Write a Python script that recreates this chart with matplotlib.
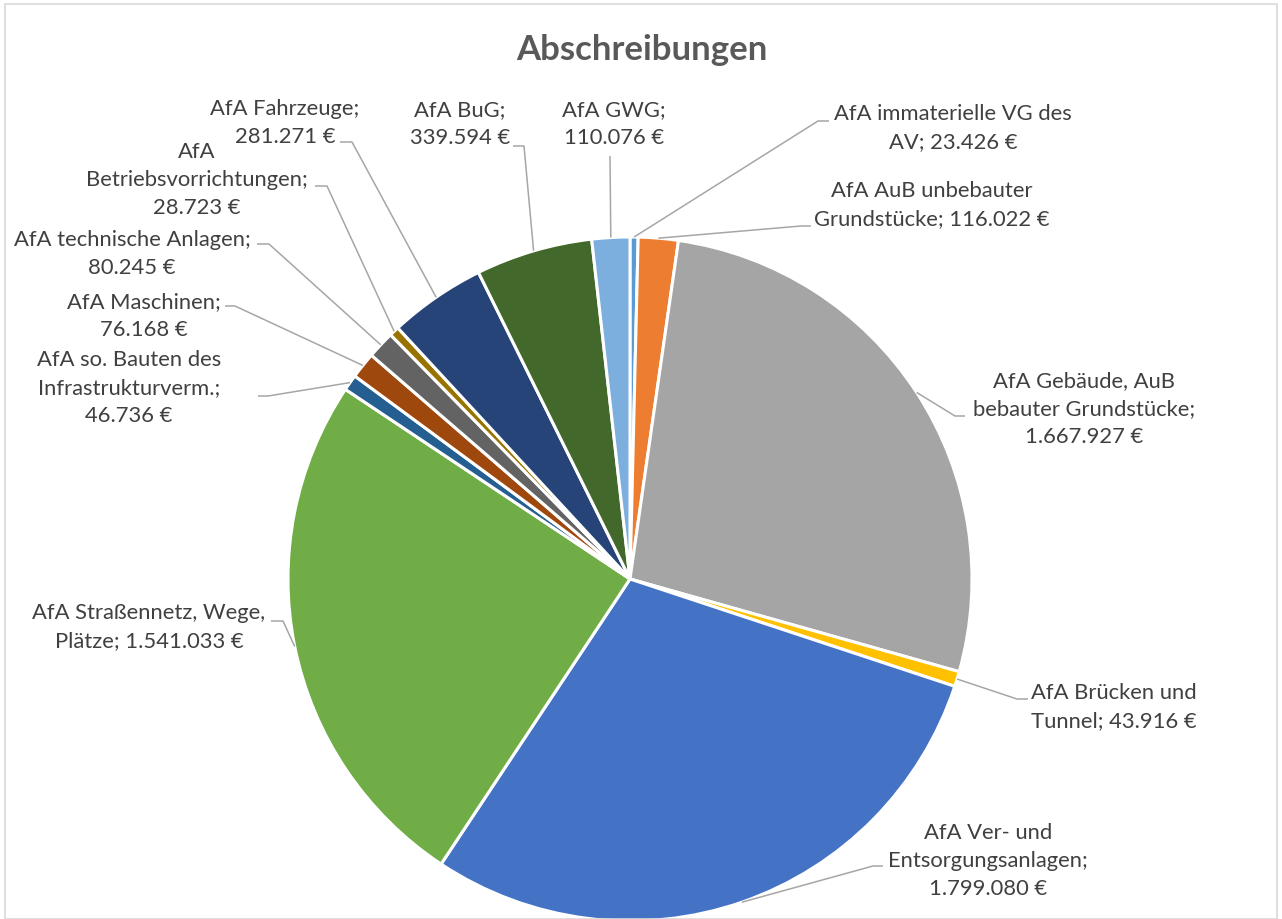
import numpy as np
import matplotlib
matplotlib.use("Agg")
import matplotlib.pyplot as plt
from matplotlib.patches import Rectangle

title = "Abschreibungen"

categories = [
    "AfA immaterielle VG des AV",
    "AfA AuB unbebauter Grundstücke",
    "AfA Gebäude, AuB bebauter Grundstücke",
    "AfA Brücken und Tunnel",
    "AfA Ver- und Entsorgungsanlagen",
    "AfA Straßennetz, Wege, Plätze",
    "AfA so. Bauten des Infrastrukturverm.",
    "AfA Maschinen",
    "AfA technische Anlagen",
    "AfA Betriebsvorrichtungen",
    "AfA Fahrzeuge",
    "AfA BuG",
    "AfA GWG",
]
values = [23426, 116022, 1667927, 43916, 1799080, 1541033, 46736,
          76168, 80245, 28723, 281271, 339594, 110076]

# label text with the line breaks used in the original
label_texts = [
    "AfA immaterielle VG des\nAV; {}",
    "AfA AuB unbebauter\nGrundstücke; {}",
    "AfA Gebäude, AuB\nbebauter Grundstücke;\n{}",
    "AfA Brücken und\nTunnel; {}",
    "AfA Ver- und\nEntsorgungsanlagen;\n{}",
    "AfA Straßennetz, Wege,\nPlätze; {}",
    "AfA so. Bauten des\nInfrastrukturverm.;\n{}",
    "AfA Maschinen;\n{}",
    "AfA technische Anlagen;\n{}",
    "AfA\nBetriebsvorrichtungen;\n{}",
    "AfA Fahrzeuge;\n{}",
    "AfA BuG;\n{}",
    "AfA GWG;\n{}",
]

colors = ["#5B9BD5", "#ED7D31", "#A5A5A5", "#FFC000", "#4472C4", "#70AD47",
          "#255E91", "#9E480E", "#636363", "#997300", "#264478", "#43682B",
          "#7CAFDD"]

# layout in pixels (y from top): label centre, leader elbow, leader end
label_pos = [(953, 128), (932, 205), (1084, 409), (1114, 707), (988, 861),
             (149, 627), (129, 388), (144, 316), (132, 254), (197, 180),
             (285, 123), (460, 124), (614, 124)]
elbows = [(818, 122), (801, 227), (955, 417), (1017, 700), (873, 867),
          (283, 622), (268, 397), (235, 307), (269, 245), (327, 187),
          (352, 143), (524, 147), (610, 157)]
ends = [(829, 122), (811, 227), (965, 417), (1028, 700), (883, 867),
        (271, 622), (258, 397), (225, 307), (257, 245), (315, 187),
        (340, 143), (513, 147), (610, 157)]

W, H = 1282, 920
cx, cy, R = 630, 580, 342


def fmt(v):
    return "{:,}".format(v).replace(",", ".") + " €"


fig = plt.figure(figsize=(W / 100, H / 100), dpi=100)
ax = fig.add_axes([0, 0, 1, 1])

wedges, _ = ax.pie(values, colors=colors, startangle=90, counterclock=False,
                   center=(cx, H - cy), radius=R,
                   wedgeprops=dict(edgecolor="white", linewidth=2.2))
ax.set_xlim(0, W)
ax.set_ylim(0, H)
ax.set_aspect("equal")
ax.axis("off")

txt_color = "#404040"
line_color = "#A6A6A6"
for w, v, t, lp, el, en in zip(wedges, values, label_texts, label_pos, elbows, ends):
    mid = np.deg2rad((w.theta1 + w.theta2) / 2)
    ax0 = cx + R * np.cos(mid)
    ay0 = (H - cy) + R * np.sin(mid)
    ax.plot([ax0, el[0], en[0]], [ay0, H - el[1], H - en[1]],
            color=line_color, lw=1.1, solid_capstyle="butt")
    ax.text(lp[0], H - lp[1], t.format(fmt(v)), ha="center", va="center",
            fontsize=15.8, family="Lato", color=txt_color, linespacing=1.52)

ax.text(642, H - 50, title, ha="center", va="center", fontsize=25,
        family="Lato", fontweight="bold", color="#595959")

fig.patches.append(Rectangle((5 / W, 0), 1272 / W, (H - 5) / H,
                             transform=fig.transFigure, fill=False,
                             edgecolor="#D9D9D9", lw=1.2))

plt.savefig("out.png", dpi=100)
